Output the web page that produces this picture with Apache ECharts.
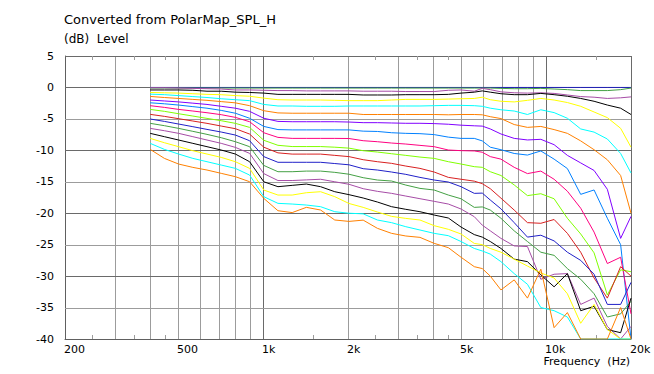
<!DOCTYPE html>
<html><head><meta charset="utf-8">
<script src="https://cdn.jsdelivr.net/npm/echarts@6/dist/echarts.min.js"></script>
<style>html,body{margin:0;padding:0;background:#fff}#c{width:654px;height:374px}</style>
</head><body><div id="c"></div>
<script>
const freqs = [400, 449, 504, 566, 635, 713, 800, 898, 1008, 1131, 1270, 1425, 1600, 1796, 2016, 2263, 2540, 2851, 3200, 3592, 4032, 4525, 5017, 5588, 5964, 6365, 6942, 7732, 8613, 9604, 10698, 11919, 13282, 14810, 16499, 18381, 20000];

const spl_0 = [0,0,0,0,0,0,0,0,0,0, 0,0,0,0,0,0,0,0,0,0, 0,0,0,0,0,0,0,0,0,0, 0,0,0,0,0,0,0];
const spl_5 = [-0.1,-0.1,-0.1,-0.1,-0.1,-0.1,-0.1,-0.1,-0.1,-0.1, -0.1,-0.1,-0.1,-0.1,-0.1,-0.1,-0.1,-0.1,-0.1,-0.1, -0.1,-0.1,-0.1,-0.1,-0.1,-0.1,-0.15,-0.2,-0.2,-0.15, -0.25,-0.35,-0.5,-0.5,-0.5,-0.35,-0.1];
const spl_10 = [-0.05,-0.05,-0.1,-0.15,-0.2,-0.25,-0.4,-0.4,-0.45,-0.5, -0.5,-0.55,-0.55,-0.55,-0.55,-0.6,-0.6,-0.6,-0.65,-0.65, -0.65,-0.45,-0.4,-0.6,-0.15,-0.35,-0.7,-0.85,-0.9,-0.85, -0.95,-1.2,-1.45,-1.55,-1.75,-1.65,-1.5];
const spl_15 = [-0.4,-0.4,-0.4,-0.45,-0.6,-0.6,-0.75,-0.8,-0.9,-1.1, -1.1,-1.1,-1.1,-1.1,-1.1,-1.2,-1.2,-1.2,-1.15,-1.15, -1.15,-1.1,-0.9,-0.75,-0.55,-0.75,-1.0,-1.15,-1.15,-0.95, -1.15,-1.4,-1.75,-2.2,-2.8,-3.3,-4.3];
const spl_20 = [-0.8,-0.85,-0.9,-1.0,-1.1,-1.15,-1.3,-1.4,-1.7,-1.95, -2.0,-2.0,-2.0,-2.05,-2.1,-2.1,-2.1,-2.0,-1.9,-1.9, -1.9,-1.85,-1.8,-1.75,-1.55,-1.95,-2.2,-2.3,-2.05,-1.75, -2.0,-2.4,-3.0,-3.9,-4.8,-6.5,-9.5];
const spl_25 = [-1.06,-1.15,-1.3,-1.45,-1.6,-1.8,-1.95,-2.1,-2.7,-2.95, -2.95,-3.0,-3.0,-3.0,-2.95,-2.95,-2.95,-2.95,-2.95,-2.95, -2.9,-2.85,-2.85,-2.9,-3.0,-3.3,-3.55,-3.75,-4.3,-3.55, -4.0,-4.9,-6.6,-7.1,-8.2,-10.5,-13.6];
const spl_30 = [-1.43,-1.6,-1.75,-1.9,-2.05,-2.25,-2.45,-2.9,-3.7,-4.05, -4.1,-4.1,-4.1,-4.1,-4.1,-4.3,-4.3,-4.3,-4.3,-4.3, -4.3,-4.35,-4.3,-4.3,-4.35,-4.65,-4.95,-5.9,-6.35,-6.2, -6.7,-7.3,-8.5,-9.9,-11.5,-14,-20];
const spl_35 = [-2.0,-2.15,-2.3,-2.5,-2.7,-3.0,-3.3,-3.8,-4.9,-5.4, -5.45,-5.45,-5.45,-5.45,-5.5,-5.6,-5.6,-5.65,-5.7,-5.7, -5.75,-5.85,-6.0,-6.1,-6.15,-6.6,-7.4,-8.1,-8.35,-8.25, -9.1,-10.8,-12.0,-13.2,-16.2,-24,-20.5];
const spl_40 = [-2.44,-2.6,-2.8,-3.05,-3.3,-3.65,-4.1,-4.9,-6.2,-6.7, -6.75,-6.75,-6.75,-6.75,-6.75,-6.95,-7.0,-7.2,-7.3,-7.35, -7.5,-7.9,-8.1,-8.1,-8.5,-9.5,-9.9,-10.5,-10.75,-10.1, -11.4,-12.9,-17.0,-16.3,-20.8,-25,-40];
const spl_45 = [-2.9,-3.17,-3.49,-3.75,-4.02,-4.33,-4.76,-5.45,-7.2,-7.94, -8.1,-8.1,-8.1,-8.1,-8.12,-8.47,-8.63,-8.84,-9.0,-9.21, -9.42,-9.95,-10.05,-10.1,-10.3,-11.0,-11.4,-12.7,-13.7,-13.3, -14.6,-16.5,-19.2,-23.0,-28,-27,-36];
const spl_50 = [-3.49,-3.8,-4.18,-4.55,-4.92,-5.29,-5.71,-6.35,-8.4,-9.2, -9.4,-9.4,-9.4,-9.5,-9.65,-10.06,-10.27,-10.54,-10.8,-11.07, -11.28,-11.81,-12.18,-12.6,-12.7,-13.4,-14.0,-15.5,-17.2,-16.9, -17.7,-20.8,-23.3,-26.3,-33,-29,-29.3];
const spl_55 = [-4.28,-4.6,-4.97,-5.34,-5.71,-6.14,-6.56,-7.41,-9.5,-10.4, -10.6,-10.6,-10.6,-10.8,-11.0,-11.49,-11.81,-12.07,-12.5,-12.87, -13.45,-14.3,-14.6,-14.9,-15.3,-16.1,-17.6,-19.5,-21.5,-21.6, -21.0,-23.2,-26.2,-30.3,-33.5,-28.5,-30];
const spl_60 = [-5.02,-5.4,-5.82,-6.24,-6.67,-7.09,-7.57,-8.47,-11.0,-11.9, -11.9,-11.9,-11.9,-12.1,-12.3,-12.92,-13.13,-13.45,-13.82,-14.3, -14.72,-15.04,-15.78,-16.84,-16.8,-17.9,-19.3,-21.5,-23.8,-23.5, -24.4,-26.2,-27.5,-29.7,-34.5,-34.5,-31];
const spl_65 = [-5.71,-6.08,-6.51,-6.98,-7.46,-7.99,-8.63,-9.42,-12.4,-13.4, -13.4,-13.3,-13.3,-13.5,-13.8,-14.35,-14.72,-14.88,-15.52,-16.05, -16.31,-17.11,-17.7,-19.07,-19.0,-19.5,-20.8,-22.8,-24.5,-26.2, -26.7,-28.8,-30.5,-32.8,-36.5,-36,-34];
const spl_70 = [-6.51,-6.88,-7.3,-7.83,-8.36,-8.89,-9.53,-10.48,-13.7,-14.8, -14.8,-14.7,-14.6,-15.0,-15.4,-16.1,-16.52,-16.84,-17.27,-17.69, -18.11,-18.54,-19.33,-20.55,-21.9,-22.8,-24.0,-25.2,-25.3,-30.5, -29.7,-29.6,-34.5,-33.5,-38,-40,-38];
const spl_75 = [-7.3,-7.83,-8.36,-8.89,-9.42,-9.95,-10.59,-11.81,-15.0,-15.78, -15.57,-15.36,-15.78,-16.58,-17.05,-17.58,-18.22,-18.96,-19.38,-19.76, -20.29,-20.76,-22.2,-23.4,-23.8,-24.5,-25.6,-27.3,-27.7,-29.8, -31.7,-29.6,-35.5,-34.8,-38.5,-39,-33.5];
const spl_80 = [-8.1,-8.79,-9.42,-10.06,-10.59,-11.12,-11.81,-12.87,-16.31,-17.11, -17.11,-16.74,-16.58,-17.37,-18.45,-19.07,-19.81,-20.5,-20.82,-21.08, -21.98,-22.56,-23.3,-24.8,-25.0,-25.6,-26.2,-27.3,-28.4,-29.5, -30.3,-32.8,-37.5,-34.5,-38.5,-40,-40];
const spl_85 = [-8.89,-9.85,-10.59,-11.28,-11.81,-12.34,-12.87,-13.93,-17.37,-18.43, -18.54,-18.7,-18.96,-19.76,-20.0,-20.1,-21.08,-21.5,-22.14,-22.67, -23.2,-23.57,-24.5,-25.6,-26.0,-26.5,-27.7,-29.6,-31.3,-35, -35.5,-36.5,-40,-40,-40,-40,-40];
const spl_90 = [-9.85,-11.28,-12.18,-12.71,-13.13,-13.66,-14.19,-14.99,-17.64,-19.6, -19.9,-19.07,-19.49,-21.08,-21.3,-21.1,-22.4,-23.2,-23.62,-23.84, -24.79,-25.48,-27.0,-28.5,-28.8,-30.0,-32.2,-30.6,-33.5,-28.9, -38.2,-35.8,-40,-40,-40,-35,-40];

const angleNames = ['0°','5°','10°','15°','20°','25°','30°','35°','40°','45°','50°','55°','60°','65°','70°','75°','80°','85°','90°'];
const lineColors = ['#2020b8','#44a044','#a64ca6','#000000','#ffff00','#00ffff','#ff8000','#8000ff','#0080ff','#ff0080','#80ff00','#d82020',
                    '#2020c8','#44a044','#a64ca6','#000000','#ffff00','#00ffff','#ff8000'];

const xGridFreqs = [300,400,500,600,700,800,900,1000,2000,3000,4000,5000,6000,7000,8000,9000,10000,20000];
const xMajorFreqs = [1000,10000,20000];
const xMinorTicks = [250,350,450,1500,2500,3500,4500,15000];
const xTickValues = [200,500,1000,2000,5000,10000,20000];
const xTickLabels = ['200','500','1k','2k','5k','10k','20k'];
const yGridValues = [-35,-30,-25,-20,-15,-10,-5,0,5];

const FONT = '"DejaVu Sans", Verdana, sans-serif';
const MAJOR = '#6a6a6a', MINOR = '#9c9c9c';

const curves = [spl_0,spl_5,spl_10,spl_15,spl_20,spl_25,spl_30,spl_35,spl_40,spl_45,spl_50,spl_55,spl_60,spl_65,spl_70,spl_75,spl_80,spl_85,spl_90];

const lineSeries = curves.map((vals, i) => ({
  name: angleNames[i], type: 'line',
  data: freqs.map((f, j) => [f, vals[j]]),
  symbol: 'none', showSymbol: false, clip: true, z: 3,
  lineStyle: { width: 1, color: lineColors[i] }, itemStyle: { color: lineColors[i] },
  emphasis: { disabled: true }, silent: true
}));

const gridSeries = [
  { type: 'custom', coordinateSystem: 'cartesian2d', silent: true, z: 1,
    data: xGridFreqs.map(f => [f, -40]),
    renderItem: (p, api) => {
      const f = api.value(0);
      const a = api.coord([f, 5]), b = api.coord([f, -40]);
      const x = Math.round(a[0]) + 0.5;
      return { type: 'line', shape: { x1: x, y1: a[1], x2: x, y2: b[1] },
        style: { stroke: xMajorFreqs.indexOf(f) >= 0 ? MAJOR : MINOR, lineWidth: 1 } };
    } },
  { type: 'custom', coordinateSystem: 'cartesian2d', silent: true, z: 1,
    data: yGridValues.map(v => [1000, v]),
    renderItem: (p, api) => {
      const v = api.value(1);
      const a = api.coord([200, v]), b = api.coord([20000, v]);
      const y = Math.round(a[1]) + 0.5;
      return { type: 'line', shape: { x1: a[0], y1: y, x2: b[0], y2: y },
        style: { stroke: (v % 10 === 0 || v === 5) ? MAJOR : MINOR, lineWidth: 1 } };
    } },
  { type: 'custom', coordinateSystem: 'cartesian2d', silent: true, z: 1,
    data: xMinorTicks.map(f => [f, -40]),
    renderItem: (p, api) => {
      const f = api.value(0);
      const a = api.coord([f, 5]), b = api.coord([f, -40]);
      const x = Math.round(a[0]) + 0.5;
      return { type: 'group', children: [
        { type: 'line', shape: { x1: x, y1: b[1], x2: x, y2: b[1] - 4 }, style: { stroke: MINOR, lineWidth: 1 } },
        { type: 'line', shape: { x1: x, y1: a[1], x2: x, y2: a[1] + 4 }, style: { stroke: MINOR, lineWidth: 1 } }
      ] };
    } },
  { type: 'custom', coordinateSystem: 'cartesian2d', silent: true, z: 4,
    data: xTickValues.map((f, i) => [f, -40, i]),
    renderItem: (p, api) => {
      const f = api.value(0), idx = api.value(2);
      const a = api.coord([f, -40]);
      return { type: 'text', x: Math.round(a[0]) - 1, y: a[1] + 5,
        style: { text: xTickLabels[idx], fill: '#000', font: '11px ' + FONT,
          textAlign: 'left', align: 'left', textVerticalAlign: 'top', verticalAlign: 'top' } };
    } }
];

const chart = echarts.init(document.getElementById('c'), null, { renderer: 'svg' });
chart.setOption({
  animation: false,
  backgroundColor: '#ffffff',
  title: [
    { text: 'Converted from PolarMap_SPL_H', left: 64, top: 13, padding: 0,
      textStyle: { fontSize: 13, fontWeight: 'normal', fontFamily: FONT, color: '#000' } },
    { text: '(dB)  Level', left: 64, top: 33, padding: 0,
      textStyle: { fontSize: 12, fontWeight: 'normal', fontFamily: FONT, color: '#000' } },
    { text: 'Frequency  (Hz)', right: 24, top: 356, padding: 0,
      textStyle: { fontSize: 11, fontWeight: 'normal', fontFamily: FONT, color: '#000' } }
  ],
  grid: { left: 65, right: 23, top: 56, bottom: 35, containLabel: false },
  xAxis: { type: 'log', logBase: 10, min: 200, max: 20000,
    axisLine: { show: true, onZero: false, lineStyle: { color: '#606060' } },
    axisTick: { show: false }, axisLabel: { show: false }, splitLine: { show: false } },
  yAxis: { type: 'value', min: -40, max: 5, interval: 5,
    axisLine: { show: true, onZero: false, lineStyle: { color: '#606060' } },
    axisTick: { show: false }, splitLine: { show: false },
    axisLabel: { color: '#000', fontSize: 11, fontFamily: FONT, margin: 11 } },
  series: gridSeries.concat(lineSeries)
});
</script>
</body></html>
